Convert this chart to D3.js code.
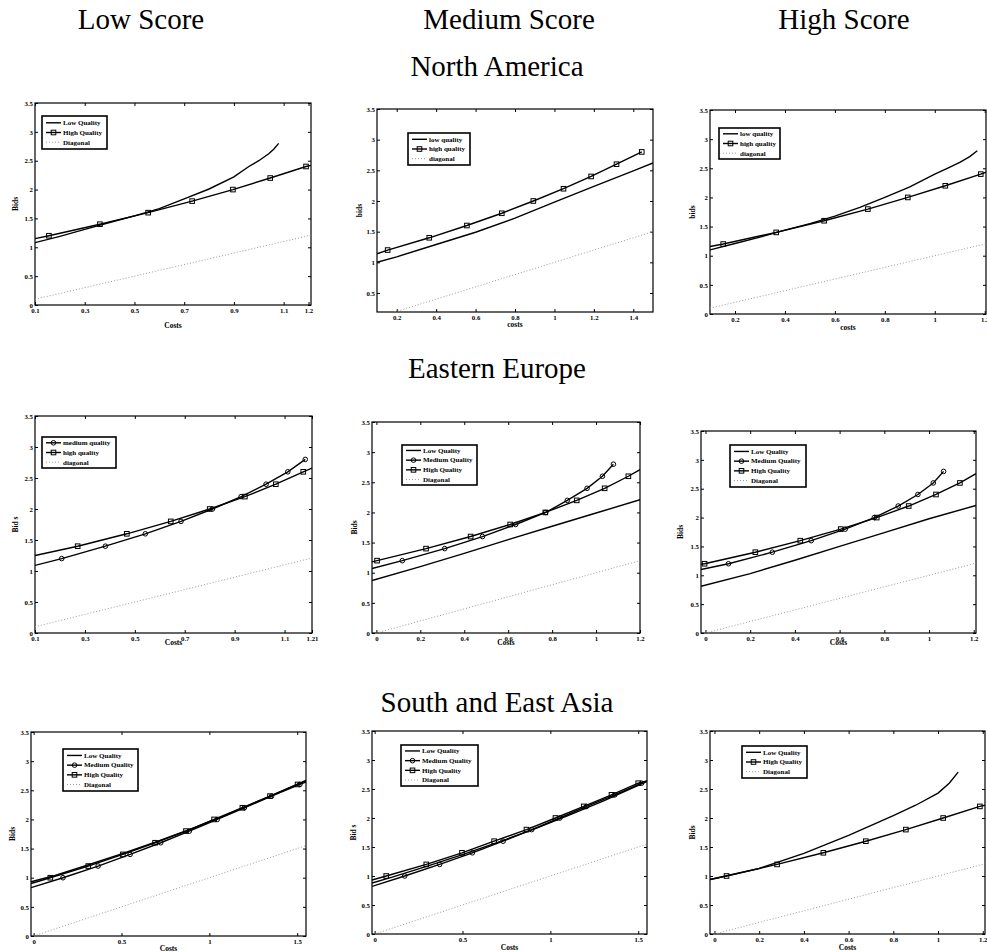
<!DOCTYPE html>
<html>
<head>
<meta charset="utf-8">
<script src="https://cdn.jsdelivr.net/npm/d3@7"></script>
<style>
body { margin: 0; background: #fff; }
text { font-family: "Liberation Serif", "Times New Roman", serif; }
</style>
</head>
<body>
<div id="chart"></div>
<script>
// headings
var scoreTitles  = ["Low Score", "Medium Score", "High Score"];
var regionTitles = ["North America", "Eastern Europe", "South and East Asia"];

// tick values
var yTicksFull   = [0, 0.5, 1, 1.5, 2, 2.5, 3, 3.5];
var yTicksCut    = [0.5, 1, 1.5, 2, 2.5, 3, 3.5];
var xTicksOdd    = [0.1, 0.3, 0.5, 0.7, 0.9, 1.1, 1.2];
var xTicksOdd121 = [0.1, 0.3, 0.5, 0.7, 0.9, 1.1, 1.21];
var xTicksEven   = [0.2, 0.4, 0.6, 0.8, 1, 1.2, 1.4];
var xTicksEven12 = [0.2, 0.4, 0.6, 0.8, 1, 1.2];
var xTicksZero   = [0, 0.2, 0.4, 0.6, 0.8, 1, 1.2];
var xTicksHalf   = [0, 0.5, 1, 1.5];

// ---- North America ----  [cost, bid]
var naLow_lowQ  = [[0.1,1.08],[0.2,1.19],[0.3,1.31],[0.4,1.43],[0.5,1.545],[0.6,1.67],[0.7,1.84],[0.8,2.01],[0.9,2.22],[0.96,2.40],[1.0,2.50],[1.04,2.62],[1.06,2.70],[1.08,2.80]];
var naLow_highQ = [[0.1,1.15],[0.156,1.2],[0.361,1.4],[0.555,1.6],[0.732,1.8],[0.896,2.0],[1.046,2.2],[1.19,2.4],[1.21,2.42]];
var naLow_diag  = [[0.1,0.1],[1.21,1.21]];

var naMed_lowQ  = [[0.1,1.0],[0.2,1.09],[0.4,1.29],[0.6,1.49],[0.8,1.72],[1.0,1.98],[1.2,2.24],[1.4,2.49],[1.5,2.62]];
var naMed_highQ = [[0.1,1.14],[0.154,1.2],[0.365,1.4],[0.556,1.6],[0.733,1.8],[0.893,2.0],[1.046,2.2],[1.186,2.4],[1.315,2.6],[1.443,2.8]];
var naMed_diag  = [[0.19,0.19],[1.5,1.5]];

var naHigh_lowQ  = [[0.1,1.10],[0.2,1.21],[0.3,1.32],[0.4,1.44],[0.5,1.55],[0.6,1.68],[0.7,1.83],[0.8,2.0],[0.9,2.18],[1.0,2.40],[1.05,2.50],[1.1,2.60],[1.14,2.70],[1.17,2.80]];
var naHigh_highQ = [[0.1,1.157],[0.153,1.2],[0.365,1.4],[0.557,1.6],[0.732,1.8],[0.892,2.0],[1.042,2.2],[1.184,2.4],[1.21,2.44]];
var naHigh_diag  = [[0.1,0.1],[1.21,1.21]];

// ---- Eastern Europe ----
var eeLow_medQ  = [[0.1,1.09],[0.207,1.2],[0.382,1.4],[0.542,1.6],[0.685,1.8],[0.811,2.0],[0.926,2.2],[1.026,2.4],[1.113,2.6],[1.183,2.8]];
var eeLow_highQ = [[0.1,1.25],[0.271,1.4],[0.468,1.6],[0.644,1.8],[0.80,2.0],[0.941,2.2],[1.065,2.4],[1.175,2.6],[1.21,2.66]];
var eeLow_diag  = [[0.1,0.1],[1.21,1.21]];

var eeMed_lowQ  = [[-0.02,0.87],[0.2,1.10],[0.4,1.32],[0.6,1.55],[0.8,1.77],[1.0,1.99],[1.2,2.21]];
var eeMed_medQ  = [[-0.02,1.07],[0.118,1.2],[0.311,1.4],[0.483,1.6],[0.634,1.8],[0.771,2.0],[0.869,2.2],[0.959,2.4],[1.029,2.6],[1.079,2.8]];
var eeMed_highQ = [[-0.02,1.18],[0.003,1.2],[0.226,1.4],[0.429,1.6],[0.609,1.8],[0.769,2.0],[0.912,2.2],[1.039,2.4],[1.147,2.6],[1.2,2.71]];
var eeMed_diag  = [[0,0],[1.2,1.2]];

var eeHigh_lowQ  = [[-0.02,0.81],[0.2,1.03],[0.4,1.26],[0.6,1.50],[0.8,1.74],[1.0,1.98],[1.21,2.21]];
var eeHigh_medQ  = [[-0.02,1.10],[0.103,1.2],[0.299,1.4],[0.473,1.6],[0.625,1.8],[0.755,2.0],[0.862,2.2],[0.95,2.4],[1.019,2.6],[1.065,2.8]];
var eeHigh_highQ = [[-0.02,1.19],[-0.004,1.2],[0.223,1.4],[0.424,1.6],[0.605,1.8],[0.766,2.0],[0.909,2.2],[1.031,2.4],[1.138,2.6],[1.21,2.76]];
var eeHigh_diag  = [[0,0],[1.21,1.21]];

// ---- South and East Asia ----
var seaLow_lowQ  = [[-0.015,0.93],[0.1,1.02],[0.3,1.21],[0.5,1.41],[0.7,1.62],[0.9,1.84],[1.1,2.08],[1.3,2.34],[1.55,2.67]];
var seaLow_medQ  = [[-0.015,0.83],[0.167,1.0],[0.367,1.2],[0.549,1.4],[0.723,1.6],[0.886,1.8],[1.045,2.0],[1.199,2.2],[1.354,2.4],[1.515,2.6],[1.55,2.64]];
var seaLow_highQ = [[-0.015,0.90],[0.095,1.0],[0.311,1.2],[0.508,1.4],[0.691,1.6],[0.867,1.8],[1.027,2.0],[1.188,2.2],[1.345,2.4],[1.502,2.6],[1.55,2.66]];
var seaLow_diag  = [[0,0],[1.55,1.55]];

var seaMed_lowQ  = [[-0.015,0.88],[0.1,0.98],[0.3,1.17],[0.5,1.37],[0.7,1.58],[0.9,1.80],[1.1,2.04],[1.3,2.29],[1.55,2.63]];
var seaMed_medQ  = [[-0.015,0.82],[0.171,1.0],[0.37,1.2],[0.556,1.4],[0.731,1.6],[0.894,1.8],[1.054,2.0],[1.206,2.2],[1.367,2.4],[1.519,2.6],[1.55,2.64]];
var seaMed_highQ = [[-0.015,0.93],[0.066,1.0],[0.294,1.2],[0.497,1.4],[0.68,1.6],[0.864,1.8],[1.029,2.0],[1.19,2.2],[1.348,2.4],[1.5,2.6],[1.55,2.64]];
var seaMed_diag  = [[0,0],[1.55,1.55]];

var seaHigh_lowQ  = [[-0.02,0.94],[0.2,1.13],[0.4,1.39],[0.6,1.70],[0.8,2.04],[0.9,2.22],[1.0,2.43],[1.05,2.60],[1.09,2.79]];
var seaHigh_highQ = [[-0.02,0.94],[0.054,1.0],[0.28,1.2],[0.487,1.4],[0.677,1.6],[0.856,1.8],[1.023,2.0],[1.187,2.2],[1.21,2.22]];
var seaHigh_diag  = [[0,0],[1.21,1.21]];

// panels in reading order; each series: [legend label, points, style]
var panels = [
	{ xd:[0.1,1.21], yd:[0,3.5], xt:xTicksOdd, yt:yTicksFull, xl:"Costs", yl:"Bids",
	  series:[["Low Quality",naLow_lowQ,"line"],["High Quality",naLow_highQ,"square"],["Diagonal",naLow_diag,"diag"]] },
	{ xd:[0.1,1.5], yd:[0.19,3.5], xt:xTicksEven, yt:yTicksCut, xl:"costs", yl:"bids",
	  series:[["low quality",naMed_lowQ,"line"],["high quality",naMed_highQ,"square"],["diagonal",naMed_diag,"diag"]] },
	{ xd:[0.1,1.205], yd:[0,3.5], xt:xTicksEven12, yt:yTicksFull, xl:"costs", yl:"bids",
	  series:[["low quality",naHigh_lowQ,"line"],["high quality",naHigh_highQ,"square"],["diagonal",naHigh_diag,"diag"]] },
	{ xd:[0.1,1.21], yd:[0,3.5], xt:xTicksOdd121, yt:yTicksFull, xl:"Costs", yl:"Bid s",
	  series:[["medium quality",eeLow_medQ,"circle"],["high quality",eeLow_highQ,"square"],["diagonal",eeLow_diag,"diag"]] },
	{ xd:[-0.02,1.2], yd:[0,3.5], xt:xTicksZero, yt:yTicksFull, xl:"Costs", yl:"Bids",
	  series:[["Low Quality",eeMed_lowQ,"line"],["Medium Quality",eeMed_medQ,"circle"],["High Quality",eeMed_highQ,"square"],["Diagonal",eeMed_diag,"diag"]] },
	{ xd:[-0.02,1.21], yd:[0,3.5], xt:xTicksZero, yt:yTicksFull, xl:"Costs", yl:"Bids",
	  series:[["Low Quality",eeHigh_lowQ,"line"],["Medium Quality",eeHigh_medQ,"circle"],["High Quality",eeHigh_highQ,"square"],["Diagonal",eeHigh_diag,"diag"]] },
	{ xd:[-0.015,1.55], yd:[0,3.5], xt:xTicksHalf, yt:yTicksFull, xl:"Costs", yl:"Bids",
	  series:[["Low Quality",seaLow_lowQ,"line"],["Medium Quality",seaLow_medQ,"circle"],["High Quality",seaLow_highQ,"square"],["Diagonal",seaLow_diag,"diag"]] },
	{ xd:[-0.015,1.55], yd:[0,3.5], xt:xTicksHalf, yt:yTicksFull, xl:"Costs", yl:"Bid s",
	  series:[["Low Quality",seaMed_lowQ,"line"],["Medium Quality",seaMed_medQ,"circle"],["High Quality",seaMed_highQ,"square"],["Diagonal",seaMed_diag,"diag"]] },
	{ xd:[-0.02,1.21], yd:[0,3.5], xt:xTicksZero, yt:yTicksFull, xl:"Costs", yl:"Bids",
	  series:[["Low Quality",seaHigh_lowQ,"line"],["High Quality",seaHigh_highQ,"square"],["Diagonal",seaHigh_diag,"diag"]] }
];

// pixel boxes: plot area, x-label baseline, y-label x, legend box
var boxes = [
	{l:35,  r:311, t:103, b:305, xly:328, ylx:15,  lg:[42,107,116,149]},
	{l:377, r:653, t:109, b:312, xly:327, ylx:359, lg:[408,470,133,165]},
	{l:710, r:986, t:110, b:314, xly:330, ylx:692, lg:[719,780,128,159]},
	{l:35,  r:312, t:416, b:633, xly:645, ylx:15,  lg:[42,116,437,468]},
	{l:372, r:640, t:422, b:633, xly:645, ylx:354, lg:[402,477,445,485]},
	{l:701, r:976, t:431, b:633, xly:645, ylx:680, lg:[730,806,445,487]},
	{l:31,  r:306, t:732, b:936, xly:951, ylx:12,  lg:[63,138,749,791]},
	{l:372, r:647, t:731, b:934, xly:950, ylx:353, lg:[401,478,745,786]},
	{l:710, r:985, t:731, b:934, xly:950, ylx:692, lg:[742,807,746,778]}
];

var titleX  = [141, 509, 844];
var regionY = [76, 378, 712];

var svg = d3.select("#chart").append("svg")
	.attr("width", 987)
	.attr("height", 952);

// headings
svg.selectAll(".scoreTitle")
	.data(scoreTitles).enter()
	.append("text")
	.attr("x", function(d, i){ return titleX[i]; })
	.attr("y", 29)
	.attr("text-anchor", "middle")
	.style("font-size", "29px")
	.text(function(d){ return d; });

svg.selectAll(".regionTitle")
	.data(regionTitles).enter()
	.append("text")
	.attr("x", 497)
	.attr("y", function(d, i){ return regionY[i]; })
	.attr("text-anchor", "middle")
	.style("font-size", "29px")
	.text(function(d){ return d; });

// markers sit on the 0.2 bid grid
function onGrid(p){ return Math.abs(p[1] * 5 - Math.round(p[1] * 5)) < 1e-6; }

function drawMarker(g, style, x, y){
	if(style == "square"){
		g.append("rect")
			.attr("x", x - 2.3).attr("y", y - 2.3)
			.attr("width", 4.6).attr("height", 4.6)
			.attr("fill", "none").attr("stroke", "black").attr("stroke-width", 1);
	}
	else if(style == "circle"){
		g.append("circle")
			.attr("cx", x).attr("cy", y).attr("r", 2.3)
			.attr("fill", "none").attr("stroke", "black").attr("stroke-width", 1);
	}
}

function lineStyle(sel, style){
	if(style == "diag"){
		sel.attr("stroke", "#9a9a9a").attr("stroke-width", 1).attr("stroke-dasharray", "1,2");
	}
	else{
		sel.attr("stroke", "black").attr("stroke-width", 1.4);
	}
}

panels.forEach(function(p, i){
	var bx = boxes[i];
	var x = d3.scaleLinear().domain(p.xd).range([bx.l, bx.r]);
	var y = d3.scaleLinear().domain(p.yd).range([bx.b, bx.t]);
	var g = svg.append("g");

	g.append("clipPath").attr("id", "clip" + i)
		.append("rect")
		.attr("x", bx.l).attr("y", bx.t)
		.attr("width", bx.r - bx.l).attr("height", bx.b - bx.t);

	// axes, ticks pointing inwards on all four sides
	var fmt = function(d){ return String(d); };
	g.append("g").attr("transform", "translate(0," + bx.b + ")")
		.call(d3.axisBottom(x).tickValues(p.xt).tickFormat(fmt).tickSizeInner(-3).tickSizeOuter(0).tickPadding(3));
	g.append("g").attr("transform", "translate(0," + bx.t + ")")
		.call(d3.axisTop(x).tickValues(p.xt).tickFormat("").tickSizeInner(-3).tickSizeOuter(0));
	g.append("g").attr("transform", "translate(" + bx.l + ",0)")
		.call(d3.axisLeft(y).tickValues(p.yt).tickFormat(fmt).tickSizeInner(-3).tickSizeOuter(0).tickPadding(2));
	g.append("g").attr("transform", "translate(" + bx.r + ",0)")
		.call(d3.axisRight(y).tickValues(p.yt).tickFormat("").tickSizeInner(-3).tickSizeOuter(0));

	g.selectAll(".domain").remove();
	g.selectAll(".tick line").attr("stroke", "black");
	g.selectAll(".tick text")
		.style("font-family", "'Liberation Serif', serif")
		.style("font-weight", "bold")
		.style("font-size", "6.8px")
		.attr("fill", "black");

	g.append("rect")
		.attr("x", bx.l).attr("y", bx.t)
		.attr("width", bx.r - bx.l).attr("height", bx.b - bx.t)
		.attr("fill", "none").attr("stroke", "black").attr("stroke-width", 1.2);

	// axis labels
	g.append("text")
		.attr("x", (bx.l + bx.r) / 2).attr("y", bx.xly)
		.attr("text-anchor", "middle")
		.style("font-weight", "bold").style("font-size", "7.5px")
		.text(p.xl);
	g.append("text")
		.attr("transform", "translate(" + bx.ylx + "," + (bx.t + bx.b) / 2 + ") rotate(-90)")
		.attr("text-anchor", "middle")
		.attr("dy", "0.35em")
		.style("font-weight", "bold").style("font-size", "7.5px")
		.text(p.yl);

	// data
	var line = d3.line()
		.x(function(d){ return x(d[0]); })
		.y(function(d){ return y(d[1]); });

	p.series.forEach(function(s){
		var path = g.append("path")
			.datum(s[1])
			.attr("d", line)
			.attr("fill", "none")
			.attr("clip-path", "url(#clip" + i + ")");
		lineStyle(path, s[2]);
		if(s[2] == "square" || s[2] == "circle"){
			s[1].filter(onGrid).forEach(function(d){
				drawMarker(g, s[2], x(d[0]), y(d[1]));
			});
		}
	});

	// legend
	var lg = bx.lg;
	var lgG = g.append("g");
	lgG.append("rect")
		.attr("x", lg[0]).attr("y", lg[2])
		.attr("width", lg[1] - lg[0]).attr("height", lg[3] - lg[2])
		.attr("fill", "white").attr("stroke", "black").attr("stroke-width", 1.6);
	var n = p.series.length;
	var cy = (lg[2] + lg[3]) / 2;
	p.series.forEach(function(s, k){
		var ry = cy + (k - (n - 1) / 2) * 9.7;
		var seg = lgG.append("line")
			.attr("x1", lg[0] + 4).attr("x2", lg[0] + 19)
			.attr("y1", ry).attr("y2", ry);
		lineStyle(seg, s[2]);
		drawMarker(lgG, s[2], lg[0] + 11.5, ry);
		lgG.append("text")
			.attr("x", lg[0] + 21).attr("y", ry)
			.attr("dy", "0.33em")
			.style("font-weight", "bold").style("font-size", "7px")
			.text(s[0]);
	});
});
</script>
</body>
</html>
